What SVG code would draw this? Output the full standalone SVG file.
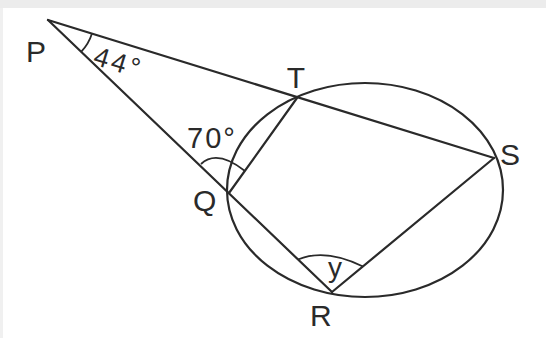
<svg xmlns="http://www.w3.org/2000/svg" width="546" height="338" viewBox="0 0 546 338">
  <style>
    .ln { fill: none; stroke: #2a2a2a; stroke-width: 2.2; stroke-linecap: round; stroke-linejoin: round; }
    .arc { fill: none; stroke: #2a2a2a; stroke-width: 1.8; }
    .lbl { font-family: "Liberation Sans", Arial, sans-serif; font-size: 30px; fill: #2a2a2a; }
    .ang { font-family: "Liberation Sans", Arial, sans-serif; fill: #2a2a2a; }
  </style>
  <rect x="0" y="0" width="546" height="338" fill="#ffffff"/>
  <rect x="0" y="0" width="546" height="8" fill="#ececec"/>
  <rect x="0" y="8" width="3" height="330" fill="#f0f0f0"/>

  <g id="circle">
    <ellipse class="ln" cx="365" cy="190" rx="138" ry="107"/>
  </g>

  <g id="connectors">
    <line class="ln" x1="48" y1="20" x2="494" y2="158"/>
    <line class="ln" x1="48" y1="20" x2="332" y2="292"/>
    <line class="ln" x1="229" y1="193" x2="297" y2="98"/>
    <line class="ln" x1="332" y1="292" x2="494" y2="158"/>
  </g>

  <g id="angles">
    <path class="arc" d="M91.9,33.8 A46,46 0 0 1 81.1,51.9"/>
    <path class="arc" d="M201,164 Q217,149 245,171"/>
    <path class="arc" d="M298,259.5 Q325.5,248 363,266.5"/>
  </g>

  <g id="node-P"><text class="lbl" x="26" y="62">P</text></g>
  <g id="node-T"><text class="lbl" x="296" y="88" text-anchor="middle">T</text></g>
  <g id="node-S"><text class="lbl" x="500" y="165">S</text></g>
  <g id="node-Q"><text class="lbl" x="193" y="211">Q</text></g>
  <g id="node-R"><text class="lbl" x="310" y="326">R</text></g>

  <g id="label-44"><text class="ang" font-size="27" letter-spacing="3" x="92" y="64" transform="rotate(17 92 64)">44°</text></g>
  <g id="label-70"><text class="ang" font-size="29" letter-spacing="2" x="187" y="148">70°</text></g>
  <g id="label-y"><text class="ang" font-size="28" x="335" y="277" text-anchor="middle">y</text></g>
</svg>
